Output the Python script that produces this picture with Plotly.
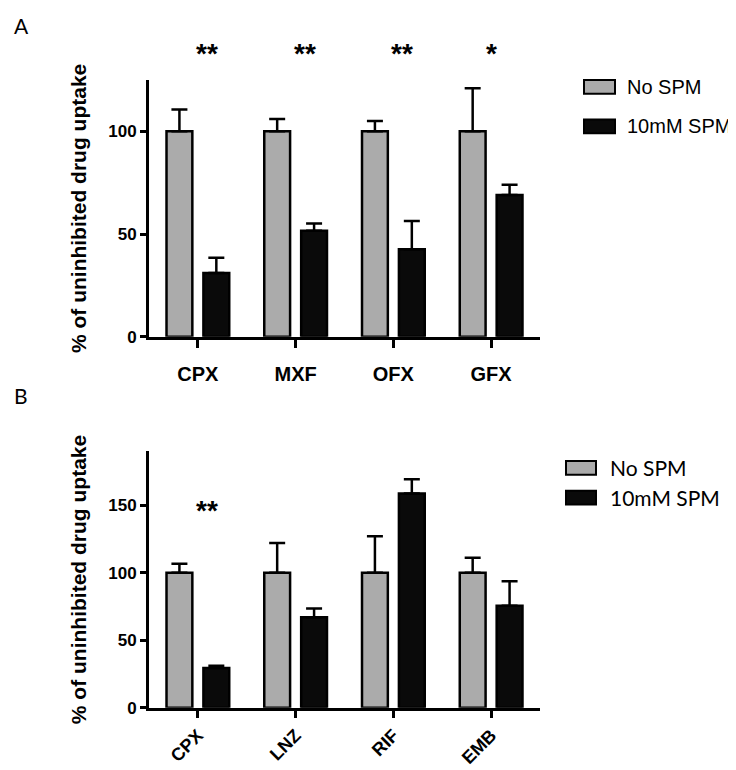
import plotly.graph_objects as go

# ---- data ----
cats_a = ["CPX", "MXF", "OFX", "GFX"]
a_nospm = [100, 100, 100, 100]
a_nospm_err = [10.6, 6, 5, 21]
a_spm = [31, 51.6, 42.6, 69]
a_spm_err = [7.4, 3.5, 13.8, 5]
sig_a = ["**", "**", "**", "*"]

cats_b = ["CPX", "LNZ", "RIF", "EMB"]
b_nospm = [100, 100, 100, 100]
b_nospm_err = [6.6, 22, 27, 11]
b_spm = [29.4, 67, 158.7, 75.6]
b_spm_err = [1.7, 6.5, 10.6, 18]
sig_b = ["**", "", "", ""]

series_names = ["No SPM", "10mM SPM"]
colors = ["#ababab", "#0a0a0a"]

W, H = 736, 770
def px_x(x):
    return x / W
def px_y(y):
    return 1 - y / H

ARIAL = "Liberation Sans, Arial, sans-serif"
SOFT = "Lato, Open Sans, sans-serif"

fig = go.Figure()

def add_bars(cats, vals, errs, name, color, xa, ya):
    fig.add_trace(go.Bar(
        x=cats, y=vals, name=name, xaxis=xa, yaxis=ya,
        marker=dict(color=color, line=dict(color="black", width=2.5)),
        error_y=dict(type="data", array=errs, arrayminus=[0] * len(errs),
                     symmetric=False, color="black", thickness=2.5, width=8),
        showlegend=False,
    ))

add_bars(cats_a, a_nospm, a_nospm_err, series_names[0], colors[0], "x", "y")
add_bars(cats_a, a_spm, a_spm_err, series_names[1], colors[1], "x", "y")
add_bars(cats_b, b_nospm, b_nospm_err, series_names[0], colors[0], "x2", "y2")
add_bars(cats_b, b_spm, b_spm_err, series_names[1], colors[1], "x2", "y2")

axis_common = dict(showline=True, linewidth=3, linecolor="black", ticks="outside",
                   tickwidth=3, tickcolor="black", showgrid=False, zeroline=False)
xfont = dict(family=ARIAL, size=20, color="black", weight="bold")
xfont_b = dict(family=ARIAL, size=18, color="black", weight="bold")
yfont = dict(family=ARIAL, size=17, color="black", weight="bold")
title_font = dict(family=ARIAL, size=21, color="black", weight="bold")

fig.update_layout(
    width=W, height=H, margin=dict(l=0, r=0, t=0, b=0),
    paper_bgcolor="white", plot_bgcolor="white",
    barmode="group", bargap=0.245, bargroupgap=0.3,
    xaxis=dict(domain=[px_x(141), px_x(532)], anchor="y", ticklen=8,
               ticklabelstandoff=9, tickfont=xfont, **axis_common),
    yaxis=dict(domain=[px_y(333), px_y(73)], anchor="x", range=[0, 125],
               tickvals=[0, 50, 100], ticklen=6, tickfont=yfont,
               title=dict(text="% of uninhibited drug uptake", font=title_font, standoff=16),
               **axis_common),
    xaxis2=dict(domain=[px_x(141), px_x(532)], anchor="y2", ticklen=7, tickangle=-45,
                tickfont=xfont_b, **axis_common),
    yaxis2=dict(domain=[px_y(709), px_y(449)], anchor="x2", range=[0, 190],
                tickvals=[0, 50, 100, 150], ticklen=6, tickfont=yfont,
                title=dict(text="% of uninhibited drug uptake", font=title_font, standoff=16),
                **axis_common),
)

anns = []
# significance markers
for cats, sig, xr, ypx in [(cats_a, sig_a, "x", 46), (cats_b, sig_b, "x2", 509)]:
    for c, s in zip(cats, sig):
        if s:
            anns.append(dict(x=c, y=px_y(ypx), xref=xr, yref="paper", text=s, showarrow=False,
                             xshift=9 if len(s) == 2 else 0, yanchor="middle",
                             font=dict(family=ARIAL, size=28, color="black", weight="bold")))

# panel letters
anns.append(dict(x=px_x(4), y=px_y(18), xref="paper", yref="paper", text="A", showarrow=False,
                 xanchor="left", yanchor="middle", font=dict(family=SOFT, size=21, color="black")))
anns.append(dict(x=px_x(4), y=px_y(393), xref="paper", yref="paper", text="B", showarrow=False,
                 xanchor="left", yanchor="middle", font=dict(family=SOFT, size=21, color="black")))

shapes = []
# legend (A)
for i, (nm, col) in enumerate(zip(series_names, colors)):
    yc = 80 + 40 * i
    shapes.append(dict(type="rect", xref="paper", yref="paper",
                       x0=px_x(576), x1=px_x(607), y0=px_y(yc - 7), y1=px_y(yc + 7),
                       fillcolor=col, line=dict(color="black", width=2)))
    anns.append(dict(x=px_x(617), y=px_y(yc), xref="paper", yref="paper", text=nm,
                     showarrow=False, xanchor="left", yanchor="middle",
                     font=dict(family=ARIAL, size=20, color="black")))
# legend (B)
for i, (nm, col) in enumerate(zip(series_names, colors)):
    yc = 466 + 30 * i
    shapes.append(dict(type="rect", xref="paper", yref="paper",
                       x0=px_x(558), x1=px_x(588), y0=px_y(yc - 7), y1=px_y(yc + 7),
                       fillcolor=col, line=dict(color="black", width=2)))
    anns.append(dict(x=px_x(600), y=px_y(yc), xref="paper", yref="paper", text=nm,
                     showarrow=False, xanchor="left", yanchor="middle",
                     font=dict(family=SOFT, size=21, color="black")))

fig.update_layout(annotations=anns, shapes=shapes)
fig.write_html("out.html")
